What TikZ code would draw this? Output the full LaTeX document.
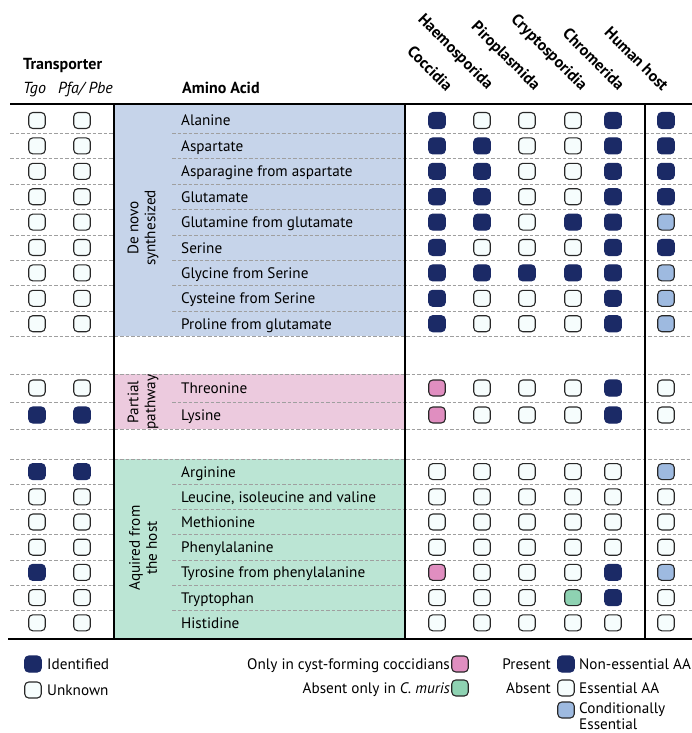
\documentclass[tikz,border=0pt]{standalone}
\usepackage{fontspec}
\setmainfont{PT Sans}
\definecolor{navyaa}{RGB}{27,42,102}
\definecolor{emptyfill}{RGB}{246,253,253}
\definecolor{edgegray}{RGB}{40,40,40}
\definecolor{cystpink}{RGB}{224,142,192}
\definecolor{murisgreen}{RGB}{142,210,178}
\definecolor{condblue}{RGB}{158,186,224}
\definecolor{denovoblue}{RGB}{198,212,234}
\definecolor{partialpink}{RGB}{236,202,222}
\definecolor{hostgreen}{RGB}{187,229,212}
\tikzset{
  aacell/.style={draw=edgegray, line width=1.1pt, rounded corners=4pt,
    minimum width=16.5pt, minimum height=16pt, inner sep=0pt},
  present/.style={fill=navyaa, draw=navyaa},
  absent/.style={fill=emptyfill},
  cyst/.style={fill=cystpink},
  muris/.style={fill=murisgreen},
  cond/.style={fill=condblue},
  rowline/.style={draw=gray!75, line width=0.6pt, dash pattern=on 3.5pt off 2pt},
  aaname/.style={anchor=base west, inner sep=0pt},
  grouplabel/.style={rotate=90, align=center, inner sep=0pt},
  headlabel/.style={anchor=base west, inner sep=0pt, font=\fontsize{16}{18}\selectfont\bfseries},
  cladelabel/.style={rotate=-45, anchor=base east, inner sep=0pt, font=\fontsize{16}{18}\selectfont\bfseries},
}
\begin{document}
\begin{tikzpicture}[x=1pt, y=-1pt, font=\fontsize{15.2}{17}\selectfont]
                \useasboundingbox (0,0) rectangle (692,733);
                \fill [denovoblue] (114,104) rectangle (405,336.4);
                \fill [partialpink] (114,374) rectangle (405,429);
                \fill [hostgreen] (114,459) rectangle (405,639);
                \foreach \y in {133.2,158.6,184,209.4,234.8,260.2,285.6,311,402,484.2,509.4,534.6,559.8,585,610.2}
                  {\draw [rowline] (10,\y) -- (114,\y); \draw [rowline] (172,\y) -- (692,\y);}
                \foreach \y in {336.4,374,429,459}
                  \draw [rowline] (10,\y) -- (692,\y);
                \draw [line width=1.6pt] (114,104) -- (114,639);
                \draw [line width=1.2pt] (405,104) -- (405,639);
                \draw [line width=1.2pt] (645,104) -- (645,639);
                \draw [line width=1.8pt] (10,104) -- (692,104);
                \draw [line width=1.8pt] (8,639) -- (692,639);
                \node [headlabel] (transp) at (23,70) {Transporter};
                \node [headlabel, font=\fontsize{16}{18}\selectfont\itshape] (tgo) at (23,94) {Tgo};
                \node [headlabel, font=\fontsize{16}{18}\selectfont\itshape] (pfa) at (58,94) {Pfa/ Pbe};
                \node [headlabel] (aahead) at (182,94) {Amino Acid};
                \node [cladelabel] (coccidia) at (446,92) {Coccidia};
                \node [cladelabel] (haemo) at (487,90) {Haemosporida};
                \node [cladelabel] (piro) at (534,91) {Piroplasmida};
                \node [cladelabel] (crypto) at (581,91) {Cryptosporidia};
                \node [cladelabel] (chromer) at (618,91) {Chromerida};
                \node [cladelabel] (human) at (662,92) {Human host};
                \node [grouplabel] (denovo) at (143,228) {De novo\\synthesized};
                \node [grouplabel] (partial) at (143,402) {Partial\\pathway};
                \node [grouplabel] (aquired) at (143,548) {Aquired from\\the host};
                \foreach \y/\nm/\ta/\tb/\ca/\cb/\cc/\cd/\ce/\hh [count=\r] in {
                  120.5/Alanine/absent/absent/present/absent/absent/absent/present/present,
                  145.9/Aspartate/absent/absent/present/present/absent/absent/present/present,
                  171.3/Asparagine from aspartate/absent/absent/present/present/absent/absent/present/present,
                  196.7/Glutamate/absent/absent/present/present/absent/absent/present/present,
                  222.1/Glutamine from glutamate/absent/absent/present/present/absent/present/present/cond,
                  247.5/Serine/absent/absent/present/absent/absent/absent/present/present,
                  272.9/Glycine from Serine/absent/absent/present/present/present/present/present/cond,
                  298.3/Cysteine from Serine/absent/absent/present/absent/absent/absent/present/cond,
                  323.7/Proline from glutamate/absent/absent/present/absent/absent/absent/present/cond,
                  388/Threonine/absent/absent/cyst/absent/absent/absent/present/absent,
                  415/Lysine/present/present/cyst/absent/absent/absent/present/absent,
                  471.6/Arginine/present/present/absent/absent/absent/absent/absent/cond,
                  496.8/{Leucine, isoleucine and valine}/absent/absent/absent/absent/absent/absent/absent/absent,
                  522/Methionine/absent/absent/absent/absent/absent/absent/absent/absent,
                  547.2/Phenylalanine/absent/absent/absent/absent/absent/absent/absent/absent,
                  572.4/Tyrosine from phenylalanine/present/absent/cyst/absent/absent/absent/present/cond,
                  597.6/Tryptophan/absent/absent/absent/absent/absent/muris/present/absent,
                  622.8/Histidine/absent/absent/absent/absent/absent/absent/absent/absent}
                {
                  \node [aaname] (aa\r) at (181,\y+5.5) {\nm};
                  \node [aacell,\ta] (tgo\r) at (37,\y) {};
                  \node [aacell,\tb] (pfa\r) at (82,\y) {};
                  \node [aacell,\ca] (cocc\r) at (437,\y) {};
                  \node [aacell,\cb] (haem\r) at (482,\y) {};
                  \node [aacell,\cc] (piro\r) at (527,\y) {};
                  \node [aacell,\cd] (cryp\r) at (573,\y) {};
                  \node [aacell,\ce] (chro\r) at (613,\y) {};
                  \node [aacell,\hh] (host\r) at (666,\y) {};
                }
                \node [aacell,present] (keyident) at (33,664) {};
                \node [aaname] (identified) at (47,669) {Identified};
                \node [aacell,absent] (keyunknown) at (33,690) {};
                \node [aaname] (unknown) at (47,695) {Unknown};
                \node [aacell,cyst] (keycyst) at (460,664) {};
                \node [anchor=base east, inner sep=0pt] (cysttext) at (450,669) {Only in cyst-forming coccidians};
                \node [aacell,muris] (keymuris) at (460,688) {};
                \node [anchor=base east, inner sep=0pt] (muristext) at (450,693) {Absent only in \textit{C. muris}};
                \node [aacell,present] (keypresent) at (566,664) {};
                \node [anchor=base east, inner sep=0pt] (presenttext) at (551,669) {Present};
                \node [aaname] (nonessential) at (579,669) {Non-essential AA};
                \node [aacell,absent] (keyabsent) at (566,688) {};
                \node [anchor=base east, inner sep=0pt] (absenttext) at (551,693) {Absent};
                \node [aaname] (essential) at (579,693) {Essential AA};
                \node [aacell,cond] (keycond) at (566,710) {};
                \node [anchor=west, align=left, inner sep=0pt, font=\fontsize{15.2}{16}\selectfont] (conditional) at (579,716.5) {Conditionally\\Essential};
            \end{tikzpicture}
\end{document}
